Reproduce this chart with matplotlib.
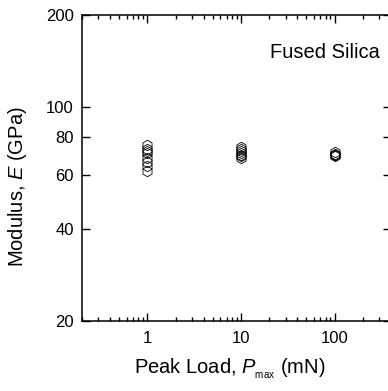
import numpy as np
import matplotlib
matplotlib.use("Agg")
import matplotlib.pyplot as plt
from matplotlib.ticker import FixedLocator, NullFormatter, LogLocator, NullLocator

plt.rcParams['font.family'] = ['Liberation Sans', 'DejaVu Sans']
plt.rcParams['mathtext.fontset'] = 'custom'
plt.rcParams['mathtext.rm'] = 'Liberation Sans'
plt.rcParams['mathtext.it'] = 'Liberation Sans:italic'

# data
load_1 = [75, 73, 72, 71, 68, 66, 64, 62]
load_10 = [74, 73, 72, 71, 70, 69, 68]
load_100 = [71.5, 70.5, 70, 69.5, 69]
loads = [1, 10, 100]
moduli = [load_1, load_10, load_100]

yticks = [20, 40, 60, 80, 100, 200]
xticks = [1, 10, 100]

fig = plt.figure(figsize=(3.88, 3.91), dpi=100)
ax = fig.add_axes([0.2113, 0.179, 0.7964, 0.7826])

for p, e in zip(loads, moduli):
    ax.plot([p] * len(e), e, linestyle='none', marker='h', markersize=7.5,
            markerfacecolor='none', markeredgecolor='black', markeredgewidth=0.6)

ax.set_xscale('log')
ax.set_yscale('log')
ax.set_xlim(0.2, 400)
ax.set_ylim(20, 200)

ax.xaxis.set_major_locator(FixedLocator(xticks))
ax.set_xticklabels([str(t) for t in xticks])
ax.xaxis.set_minor_locator(LogLocator(base=10, subs=np.arange(2, 10)))
ax.xaxis.set_minor_formatter(NullFormatter())

ax.yaxis.set_major_locator(FixedLocator(yticks))
ax.set_yticklabels([str(t) for t in yticks])
ax.yaxis.set_minor_locator(NullLocator())

ax.tick_params(which='both', direction='in', top=True, right=True,
               labelsize=12, width=1.0)
ax.tick_params(axis='x', pad=7)
ax.tick_params(axis='y', pad=6)
ax.tick_params(which='major', length=6)
ax.tick_params(which='minor', length=3)
for s in ax.spines.values():
    s.set_linewidth(1.1)

fig.text(230 / 388, 1 - 373 / 391, 'Peak Load, $P_{_{\\mathrm{max}}}$ (mN)',
         ha='center', va='baseline', fontsize=14.5)
fig.text(18 / 388, 1 - 187 / 391, 'Modulus, $E$ (GPa)', rotation=90,
         ha='center', va='center', fontsize=14.5)

ax.text(0.964, 0.879, 'Fused Silica', transform=ax.transAxes,
        ha='right', va='center', fontsize=14.5)

fig.savefig('out.png', dpi=100)
